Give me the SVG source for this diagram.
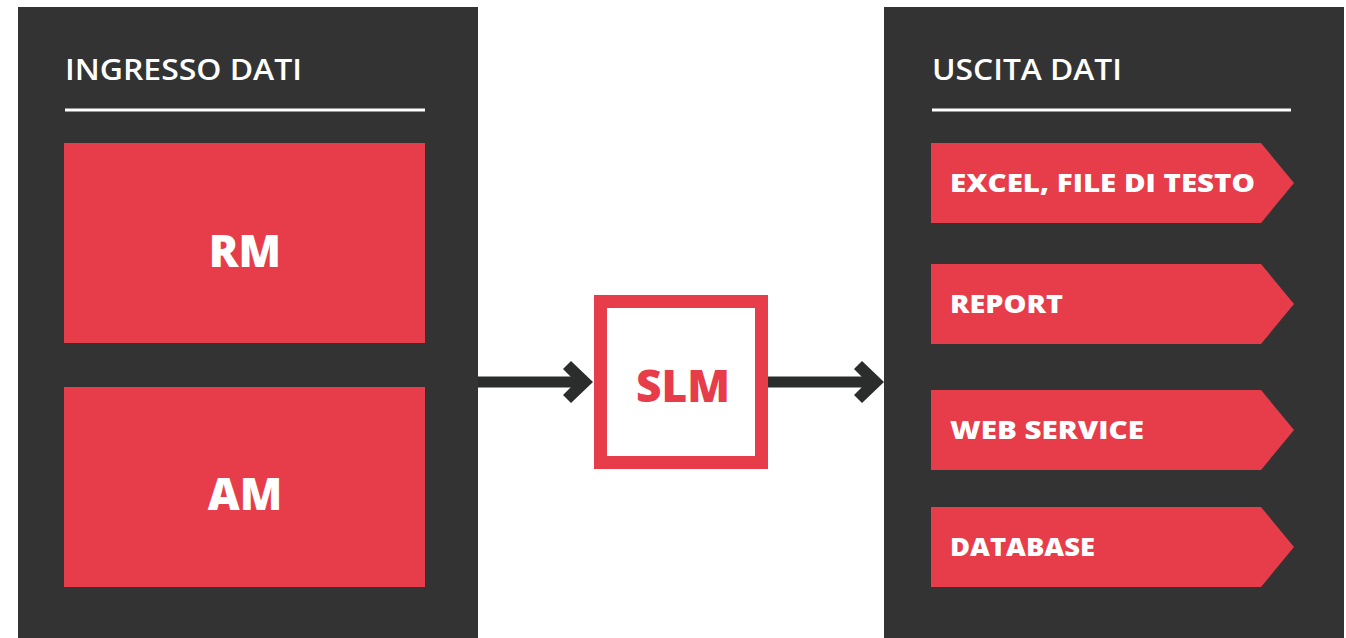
<svg xmlns="http://www.w3.org/2000/svg" xmlns:xlink="http://www.w3.org/1999/xlink" width="1346" height="638" viewBox="0 0 1346 638">
<style>
.panel{fill:#333333}
.red{fill:#E73C4A}
.rule{stroke:#ffffff;stroke-width:3}
.title{font-family:"Open Sans","Liberation Sans",sans-serif;font-weight:600;font-size:29px;fill:#ffffff}
.big{font-family:"Open Sans","Liberation Sans",sans-serif;font-weight:800;font-size:44px;fill:#ffffff;text-anchor:middle}
.lbl{font-family:"Open Sans","Liberation Sans",sans-serif;font-weight:800;font-size:24px;fill:#ffffff}
.conn{stroke:#2b2c2c;stroke-width:11}
</style>
<defs>
<path id="chev" d="M-30,-13 L-22,-21 L0,0 L-22,21 L-30,13 L-17,0 Z" fill="#2b2c2c"/>
</defs>
<rect width="1346" height="638" fill="#ffffff"/>
<g id="input-panel">
<rect class="panel" x="18" y="7" width="460" height="631"/>
<text class="title" x="65" y="80" textLength="237" lengthAdjust="spacingAndGlyphs">INGRESSO DATI</text>
<line class="rule" x1="65" y1="110" x2="425" y2="110"/>
</g>
<g id="rm">
<rect class="red" x="64" y="143" width="361" height="200"/>
<text class="big" x="245" y="267">RM</text>
</g>
<g id="am">
<rect class="red" x="64" y="387" width="361" height="200"/>
<text class="big" x="245" y="510">AM</text>
</g>
<g id="slm">
<rect x="600.5" y="301.5" width="161" height="161" fill="#ffffff" stroke="#E73C4A" stroke-width="13"/>
<text class="big" x="683" y="402" style="fill:#E73C4A" textLength="94" lengthAdjust="spacingAndGlyphs">SLM</text>
</g>
<g id="output-panel">
<rect class="panel" x="884" y="7" width="460" height="631"/>
<text class="title" x="932" y="80" textLength="190" lengthAdjust="spacingAndGlyphs">USCITA DATI</text>
<line class="rule" x1="932" y1="110" x2="1291" y2="110"/>
</g>
<g id="out-excel">
<polygon class="red" points="931,143 1261,143 1294,183 1261,223 931,223"/>
<text class="lbl" x="950" y="192" textLength="305" lengthAdjust="spacingAndGlyphs">EXCEL, FILE DI TESTO</text>
</g>
<g id="out-report">
<polygon class="red" points="931,264 1261,264 1294,304 1261,344 931,344"/>
<text class="lbl" x="950" y="313" textLength="113" lengthAdjust="spacingAndGlyphs">REPORT</text>
</g>
<g id="out-webservice">
<polygon class="red" points="931,390 1261,390 1294,430 1261,470 931,470"/>
<text class="lbl" x="950" y="439" textLength="194" lengthAdjust="spacingAndGlyphs">WEB SERVICE</text>
</g>
<g id="out-database">
<polygon class="red" points="931,507 1261,507 1294,547 1261,587 931,587"/>
<text class="lbl" x="950" y="556" textLength="145" lengthAdjust="spacingAndGlyphs">DATABASE</text>
</g>
<g id="connectors">
<line class="conn" x1="478" y1="382" x2="585" y2="382"/>
<use xlink:href="#chev" href="#chev" x="593" y="382"/>
<line class="conn" x1="768" y1="382" x2="876" y2="382"/>
<use xlink:href="#chev" href="#chev" x="884" y="382"/>
</g>
</svg>
